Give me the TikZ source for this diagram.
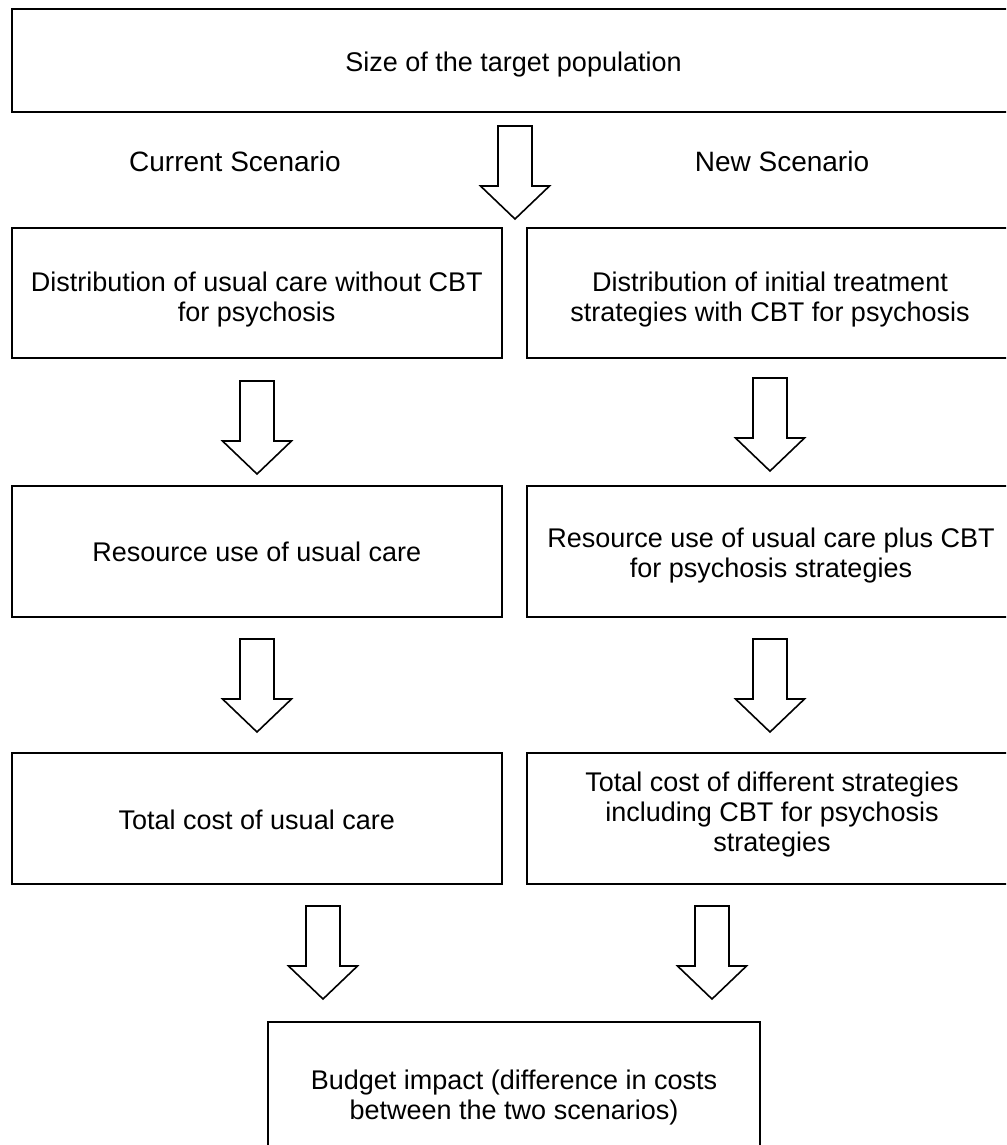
\documentclass[tikz,border=0pt]{standalone}
\usepackage{fontspec}
\setmainfont{Liberation Sans}
\begin{document}
\begin{tikzpicture}[x=1pt,y=-1pt,
  box/.style={draw=black,line width=2pt,fill=white,inner sep=0pt,rectangle},
  txt/.style={inner sep=0pt,align=center,anchor=base,font=\fontsize{27}{30}\selectfont},
  heading/.style={inner sep=0pt,anchor=base,font=\fontsize{28}{31}\selectfont},
  blockarr/.pic={\draw[line width=1.6pt,fill=white,line join=miter]
    (-17,-93) -- (17,-93) -- (17,-33) -- (34.5,-33) -- (0,0) -- (-34.5,-33) -- (-17,-33) -- cycle;}]
\useasboundingbox (0,0) rectangle (1006,1145);
\clip (0,0) rectangle (1006,1145);
% boxes
\node[box,minimum width=1004.5pt,minimum height=103.5pt] (top) at (513.75,60.75) {};
\node[box,minimum width=490.5pt,minimum height=130pt] (l1) at (256.75,293) {};
\node[box,minimum width=489pt,minimum height=130pt] (r1) at (771.5,293) {};
\node[box,minimum width=490.5pt,minimum height=131pt] (l2) at (256.75,551.5) {};
\node[box,minimum width=489pt,minimum height=131pt] (r2) at (771.5,551.5) {};
\node[box,minimum width=490.5pt,minimum height=131pt] (l3) at (256.75,818.5) {};
\node[box,minimum width=489pt,minimum height=131pt] (r3) at (771.5,818.5) {};
\node[box,minimum width=492pt,minimum height=146pt] (bi) at (514,1095) {};
% texts (baseline of the last line)
\node[txt] (topt) at (513.5,72) {Size of the target population};
\node[heading] (cur) at (235,171) {Current Scenario};
\node[heading] (new) at (782,171) {New Scenario};
\node[txt] (l1t) at (256.75,321) {Distribution of usual care without CBT\\for psychosis};
\node[txt] (r1t) at (770,321) {Distribution of initial treatment\\strategies with CBT for psychosis};
\node[txt] (l2t) at (256.75,561) {Resource use of usual care};
\node[txt] (r2t) at (771,577) {Resource use of usual care plus CBT\\for psychosis strategies};
\node[txt] (l3t) at (256.75,829) {Total cost of usual care};
\node[txt] (r3t) at (772,851) {Total cost of different strategies\\including CBT for psychosis\\strategies};
\node[txt] (bit) at (514,1119) {Budget impact (difference in costs\\between the two scenarios)};
% block arrows (tips)
\coordinate (t0) at (515,219);
\coordinate (tl1) at (257,474);
\coordinate (tr1) at (770,471);
\coordinate (tl2) at (257,732);
\coordinate (tr2) at (770,732);
\coordinate (tl3) at (323,999);
\coordinate (tr3) at (712,999);
\foreach \c in {t0,tl1,tr1,tl2,tr2,tl3,tr3} \pic at (\c) {blockarr};
\end{tikzpicture}
\end{document}
